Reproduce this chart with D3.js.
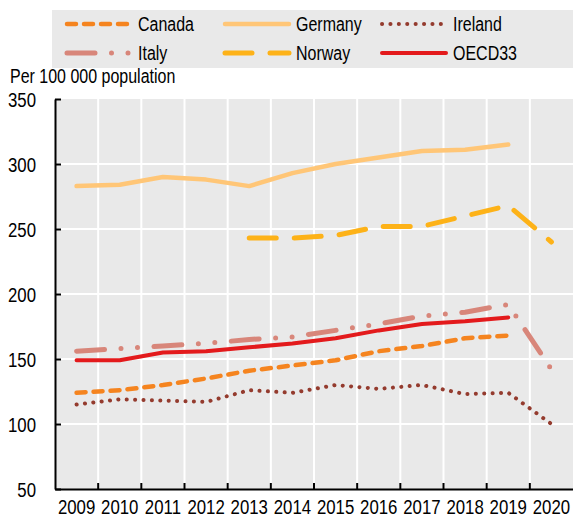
<!DOCTYPE html>
<html>
<head>
<meta charset="utf-8">
<script src="https://cdn.jsdelivr.net/npm/d3@7"></script>
<style>
  html, body { margin: 0; padding: 0; background: #fff; }
  svg { display: block; }
  text { font-family: "Liberation Sans Narrow", "Liberation Sans", Arial, sans-serif; fill: #000; }
</style>
</head>
<body>
<svg id="chart" width="573" height="517"></svg>
<script>
// ---- Data ----
const years = ["2009","2010","2011","2012","2013","2014","2015","2016","2017","2018","2019","2020"];
const yTicks = [50, 100, 150, 200, 250, 300, 350];
const canada  = [124, 126, 130, 135, 141, 145, 149, 156, 160, 166, 168, null];
const germany = [283, 284, 290, 288, 283, 293, 300, 305, 310, 311, 315, null];
const ireland = [115, 119, 118, 117, 126, 124, 130, 127, 130, 123, 124, 100];
const italy   = [156, 158, 160, 162, 165, 167, 172, 177, 183, 186, 192, 142];
const norway  = [null, null, null, null, 243, 243, 245, 252, 252, 260, 268, 240];
const oecd    = [149, 149, 155, 156, 159, 162, 166, 172, 177, 179, 182, null];
const seriesNames = ["Canada", "Germany", "Ireland", "Italy", "Norway", "OECD33"];
const yTitle = "Per 100 000 population";

// ---- Styles ----
const SX = 0.82; // horizontal condensing to mimic a narrow typeface
const styles = {
  "Canada":  { color: "#F5841F", width: 4.5, dash: "9,8" },
  "Germany": { color: "#FFC677", width: 4.5, dash: null },
  "Ireland": { color: "#943B2E", width: 4,   dash: "0.1,8.3" },
  "Italy":   { color: "#D8867A", width: 5,   dash: "28,16.5,0,16.5,0,16.5" },
  "Norway":  { color: "#FDB218", width: 5,   dash: "27,18" },
  "OECD33":  { color: "#E31A1C", width: 4,   dash: null }
};
const seriesData = { "Canada": canada, "Germany": germany, "Ireland": ireland,
                     "Italy": italy, "Norway": norway, "OECD33": oecd };
const drawOrder = ["Germany", "Norway", "Italy", "Canada", "Ireland", "OECD33"];

const svg = d3.select("#chart");
const pLeft = 55, pRight = 573, pTop = 99, pBottom = 489;

const x = d3.scaleBand().domain(years).range([pLeft, pRight]).padding(0);
const y = d3.scaleLinear().domain([50, 350]).range([pBottom, pTop]);

// plot background
svg.append("rect").attr("x", pLeft).attr("y", pTop)
  .attr("width", pRight - pLeft).attr("height", pBottom - pTop).attr("fill", "#E9E9E9");

// horizontal gridlines
svg.append("g").selectAll("line").data(yTicks.filter(t => t > 50 && t < 350)).join("line")
  .attr("x1", pLeft).attr("x2", pRight)
  .attr("y1", d => y(d)).attr("y2", d => y(d))
  .attr("stroke", "#fff").attr("stroke-width", 2);

// vertical gridlines at band boundaries
svg.append("g").selectAll("line").data(years.slice(1)).join("line")
  .attr("x1", d => x(d)).attr("x2", d => x(d))
  .attr("y1", pTop).attr("y2", pBottom)
  .attr("stroke", "#fff").attr("stroke-width", 2);

// lines
const line = d3.line()
  .defined(d => d != null)
  .x((d, i) => x(years[i]) + x.bandwidth() / 2)
  .y(d => y(d));

drawOrder.forEach(name => {
  const s = styles[name];
  const vals = seriesData[name];
  svg.append("path")
    .datum(vals)
    .attr("d", line)
    .attr("fill", "none")
    .attr("stroke", s.color)
    .attr("stroke-width", s.width)
    .attr("stroke-linecap", "round")
    .attr("stroke-linejoin", "round")
    .attr("stroke-dasharray", s.dash);
});

// y axis
const yPad = 19;
const yAxis = d3.axisLeft(y).tickValues(yTicks).tickSizeInner(-6).tickSizeOuter(0).tickPadding(yPad);
const gy = svg.append("g").attr("transform", `translate(${pLeft},0)`).call(yAxis);
gy.select(".domain").attr("stroke", "#000").attr("stroke-width", 2);
gy.selectAll(".tick line").attr("stroke", "#000").attr("stroke-width", 2);
gy.selectAll(".tick text").attr("font-size", 20.5).attr("font-family", null)
  .attr("dy", "0.36em").attr("x", -yPad / SX).attr("transform", `scale(${SX},1)`);

// x axis
const xAxis = d3.axisBottom(x).tickSize(0).tickPadding(10);
const gx = svg.append("g").attr("transform", `translate(0,${pBottom})`).call(xAxis);
gx.select(".domain").attr("stroke", "#000").attr("stroke-width", 2);
gx.selectAll(".tick text").attr("font-size", 20.5).attr("font-family", null)
  .attr("transform", `scale(${SX},1)`);
// tick marks at band boundaries
gx.append("g").selectAll("line").data(years.slice(1)).join("line")
  .attr("x1", d => x(d)).attr("x2", d => x(d))
  .attr("y1", 0).attr("y2", -6)
  .attr("stroke", "#000").attr("stroke-width", 2);

// y title
svg.append("text").attr("transform", `translate(10,83) scale(${SX},1)`)
  .attr("font-size", 19.5).text(yTitle);

// legend
svg.append("rect").attr("x", 52).attr("y", 10).attr("width", 521).attr("height", 58).attr("fill", "#E9E9E9");
const colX = [67, 225, 382];
const rowY = [24, 53];
seriesNames.forEach((name, i) => {
  const s = styles[name];
  const cx = colX[i % 3], cy = rowY[Math.floor(i / 3)];
  const g = svg.append("g");
  g.append("line").attr("x1", cx).attr("x2", cx + 64).attr("y1", cy).attr("y2", cy)
    .attr("stroke", s.color).attr("stroke-width", s.width)
    .attr("stroke-linecap", "round").attr("stroke-dasharray", s.dash);
  g.append("text").attr("transform", `translate(${cx + 71},${cy + 7}) scale(${SX},1)`)
    .attr("font-size", 19.5).text(name);
});
</script>
</body>
</html>
